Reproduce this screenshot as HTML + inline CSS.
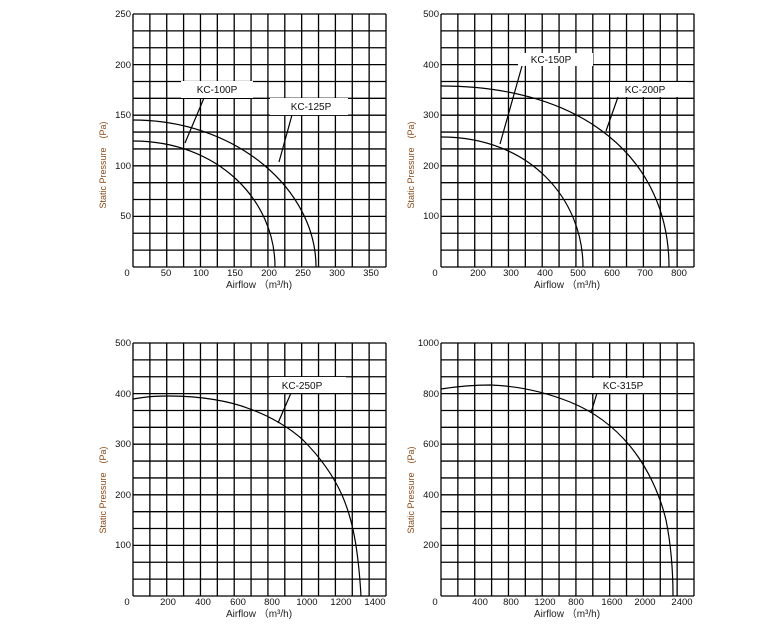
<!DOCTYPE html>
<html><head><meta charset="utf-8"><style>
html,body{margin:0;padding:0;background:#fff}
svg{display:block}
text{font-family:"Liberation Sans",Arial,sans-serif}
.t{font-size:9.5px;fill:#111}
.a{font-size:10px;fill:#222}
.y{font-size:9px;fill:#8a4b1a}
.k{font-size:10px;fill:#111}
</style></head><body>
<svg width="781" height="624" viewBox="0 0 781 624" xmlns="http://www.w3.org/2000/svg">
<defs>
<g id="grid" stroke="#000" stroke-width="1.3" fill="none">
<path d="M0 0V253M16.87 0V253M33.73 0V253M50.6 0V253M67.47 0V253M84.33 0V253M101.2 0V253M118.07 0V253M134.93 0V253M151.8 0V253M168.67 0V253M185.53 0V253M202.4 0V253M219.27 0V253M236.13 0V253M253 0V253"/>
<path d="M0 0H253M0 16.87H253M0 33.73H253M0 50.6H253M0 67.47H253M0 84.33H253M0 101.2H253M0 118.07H253M0 134.93H253M0 151.8H253M0 168.67H253M0 185.53H253M0 202.4H253M0 219.27H253M0 236.13H253M0 253H253"/>
</g>
</defs>

<!-- Chart 1 -->
<use href="#grid" x="133" y="14"/>
<g class="t" text-anchor="end">
<text x="131" y="17">250</text><text x="131" y="68">200</text><text x="131" y="118">150</text><text x="131" y="169">100</text><text x="131" y="219">50</text>
</g>
<g class="t" text-anchor="middle">
<text x="127" y="276">0</text><text x="166" y="276">50</text><text x="201" y="276">100</text><text x="235" y="276">150</text><text x="269" y="276">200</text><text x="303" y="276">250</text><text x="337" y="276">300</text><text x="371" y="276">350</text>
</g>
<text class="a" x="259" y="288" text-anchor="middle">Airflow （m³/h)</text>
<text class="y" transform="translate(106,165) rotate(-90)" text-anchor="middle">Static Pressure　(Pa)</text>
<rect x="181" y="81" width="72" height="17" fill="#fff"/>
<rect x="270" y="98" width="78" height="17" fill="#fff"/>
<text class="k" x="217" y="93" text-anchor="middle">KC-100P</text>
<text class="k" x="311" y="110" text-anchor="middle">KC-125P</text>
<g stroke="#000" stroke-width="1.2" fill="none">
<path d="M133 141 C218 141 275 200 275 267"/>
<path d="M133 120 C237 120 316 190 316 267"/>
<path d="M204 98 L185 143 M292 115 L279 162"/>
</g>

<!-- Chart 2 -->
<use href="#grid" x="441" y="14"/>
<g class="t" text-anchor="end">
<text x="439" y="17">500</text><text x="439" y="68">400</text><text x="439" y="118">300</text><text x="439" y="169">200</text><text x="439" y="219">100</text>
</g>
<g class="t" text-anchor="middle">
<text x="435" y="276">0</text><text x="478" y="276">200</text><text x="511" y="276">300</text><text x="545" y="276">400</text><text x="578" y="276">500</text><text x="612" y="276">600</text><text x="645" y="276">700</text><text x="679" y="276">800</text>
</g>
<text class="a" x="567" y="288" text-anchor="middle">Airflow （m³/h)</text>
<text class="y" transform="translate(414,165) rotate(-90)" text-anchor="middle">Static Pressure　(Pa)</text>
<rect x="518" y="53" width="75" height="13" fill="#fff"/>
<rect x="610" y="82" width="77" height="15" fill="#fff"/>
<text class="k" x="551" y="63" text-anchor="middle">KC-150P</text>
<text class="k" x="645" y="93" text-anchor="middle">KC-200P</text>
<g stroke="#000" stroke-width="1.2" fill="none">
<path d="M441 137 C531 137 583 200 583 267"/>
<path d="M441 86 C585 86 669 160 669 267"/>
<path d="M522 66 L500 144 M618 97 L606 131"/>
</g>

<!-- Chart 3 -->
<use href="#grid" x="133" y="343"/>
<g class="t" text-anchor="end">
<text x="131" y="346">500</text><text x="131" y="397">400</text><text x="131" y="447">300</text><text x="131" y="498">200</text><text x="131" y="548">100</text>
</g>
<g class="t" text-anchor="middle">
<text x="127" y="605">0</text><text x="168" y="605">200</text><text x="203" y="605">400</text><text x="238" y="605">600</text><text x="272" y="605">800</text><text x="307" y="605">1000</text><text x="341" y="605">1200</text><text x="375" y="605">1400</text>
</g>
<text class="a" x="259" y="617" text-anchor="middle">Airflow （m³/h)</text>
<text class="y" transform="translate(106,490) rotate(-90)" text-anchor="middle">Static Pressure　(Pa)</text>
<rect x="270" y="377" width="76" height="16" fill="#fff"/>
<text class="k" x="302" y="389" text-anchor="middle">KC-250P</text>
<g stroke="#000" stroke-width="1.2" fill="none" stroke-linejoin="round">
<path d="M133 399 C150 396 160 396 170 396 C200 396 230 401 250 409 C270 416 290 428 303 440 C320 457 333 475 342 495 C352 518 358 545 361 596"/>
<path d="M291 393 L278 423"/>
</g>

<!-- Chart 4 -->
<use href="#grid" x="441" y="343"/>
<g class="t" text-anchor="end">
<text x="439" y="346">1000</text><text x="439" y="397">800</text><text x="439" y="447">600</text><text x="439" y="498">400</text><text x="439" y="548">200</text>
</g>
<g class="t" text-anchor="middle">
<text x="435" y="605">0</text><text x="480" y="605">400</text><text x="511" y="605">800</text><text x="545" y="605">1200</text><text x="576" y="605">800</text><text x="612" y="605">1600</text><text x="645" y="605">2000</text><text x="682" y="605">2400</text>
</g>
<text class="a" x="567" y="617" text-anchor="middle">Airflow （m³/h)</text>
<text class="y" transform="translate(414,490) rotate(-90)" text-anchor="middle">Static Pressure　(Pa)</text>
<rect x="585" y="378" width="68" height="15" fill="#fff"/>
<text class="k" x="623" y="389" text-anchor="middle">KC-315P</text>
<g stroke="#000" stroke-width="1.2" fill="none" stroke-linejoin="round">
<path d="M441 389 C460 386 475 385 490 385 C520 386 545 392 570 402 C595 412 615 428 630 446 C648 468 660 495 666 520 C671 545 673 570 673 596"/>
<path d="M597 393 L591 413"/>
</g>
</svg>
</body></html>
